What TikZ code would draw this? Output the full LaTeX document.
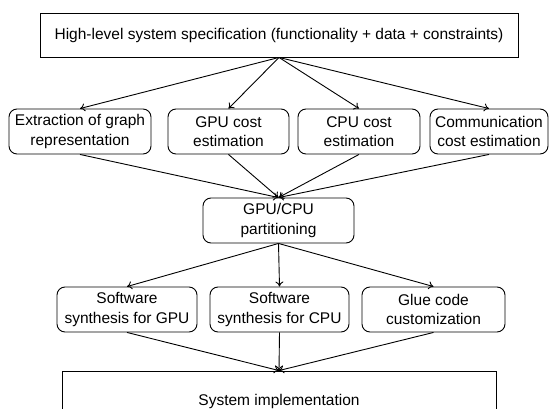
\documentclass[tikz,border=0pt]{standalone}
\usepackage{fontspec}
\setmainfont{Liberation Sans}
\usetikzlibrary{arrows.meta}
\begin{document}
\begin{tikzpicture}[x=1pt,y=-1pt,
  every node/.style={font=\fontsize{15.5}{19.5}\selectfont, align=center, inner sep=0pt},
  sqbox/.style={draw, line width=0.9pt},
  rbox/.style={draw, line width=0.9pt, rounded corners=8pt},
  conn/.style={line width=0.9pt, -{To[length=5pt,width=8pt]}}]
\useasboundingbox (0,0) rectangle (549,409);
\clip (0,0) rectangle (549,409);
\node[sqbox, minimum width=478pt, minimum height=44pt] (top) at (279,35) {High-level system specification (functionality + data + constraints)};
\node[rbox, minimum width=142pt, minimum height=45pt] (ex) at (80,131.5) {Extraction of graph\\representation};
\node[rbox, minimum width=121pt, minimum height=45pt] (gpu) at (228.5,131.5) {GPU cost\\estimation};
\node[rbox, minimum width=122pt, minimum height=45pt] (cpu) at (359,131.5) {CPU cost\\estimation};
\node[rbox, minimum width=118pt, minimum height=45pt] (com) at (489,131.5) {Communication\\cost estimation};
\node[rbox, minimum width=151pt, minimum height=45pt] (part) at (278.5,220.5) {GPU/CPU\\partitioning};
\node[rbox, minimum width=140pt, minimum height=45pt] (sg) at (127,309.5) {Software\\synthesis for GPU};
\node[rbox, minimum width=139pt, minimum height=45pt] (sc) at (279.5,309.5) {Software\\synthesis for CPU};
\node[rbox, minimum width=143pt, minimum height=45pt] (glue) at (433.5,309.5) {Glue code\\customization};
\node[sqbox, minimum width=434pt, minimum height=60pt] (impl) at (279,401) {};
\node (impltext) at (279,401) {System implementation};
\foreach \t in {ex,gpu,cpu,com} \draw[conn] (top.south) -- (\t.north);
\foreach \t in {ex,gpu,cpu,com} \draw[conn] (\t.south) -- (part.north);
\foreach \t in {sg,sc,glue} \draw[conn] (part.south) -- (\t.north);
\foreach \t in {sg,sc,glue} \draw[conn] (\t.south) -- (impl.north);
\end{tikzpicture}
\end{document}
